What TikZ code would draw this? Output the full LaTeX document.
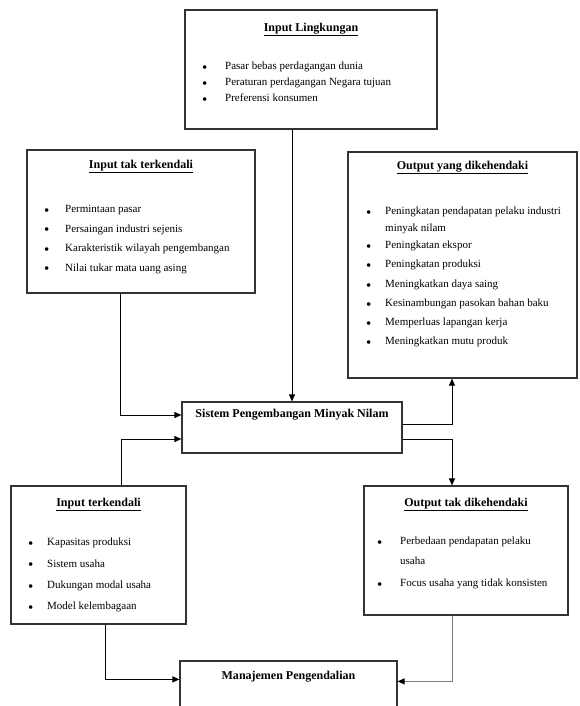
\documentclass[tikz,border=0pt]{standalone}
\usepackage{fontspec}
\setmainfont{Liberation Serif}
\usetikzlibrary{arrows.meta}
\definecolor{BoxLine}{gray}{0.2}
\definecolor{LinkGray}{gray}{0.5}

\begin{document}
\begin{tikzpicture}[x=1pt,y=-1pt,
  every node/.style={font=\fontsize{11}{13}\selectfont},
  box/.style={draw=BoxLine, line width=1.2pt, fill=white, inner sep=0pt},
  title/.style={font=\fontsize{12}{14}\selectfont\bfseries, inner sep=0pt},
  item/.style={anchor=west, inner sep=0pt, text height=8pt, text depth=2.5pt},
  dot/.style={item, yshift=-2.3pt, font=\fontsize{15}{15}\selectfont},
  arr/.style={line width=0.9pt, -{Triangle[length=7pt,width=6pt]}}]
  \useasboundingbox (0,0) rectangle (579,706);
  \clip (0,0) rectangle (579,706);

  % boxes
  \node[box, minimum width=252pt, minimum height=119pt] (lk) at (311,69.5) {};
  \node[box, minimum width=228pt, minimum height=143pt] (itk) at (141,221.5) {};
  \node[box, minimum width=229pt, minimum height=226pt] (oyd) at (462.5,265) {};
  \node[box, minimum width=220pt, minimum height=51pt] (sys) at (292,427.5) {};
  \node[box, minimum width=175pt, minimum height=138pt] (itr) at (98.5,555) {};
  \node[box, minimum width=204pt, minimum height=129pt] (otd) at (466,550.5) {};
  \node[box, minimum width=217pt, minimum height=60pt] (mp) at (288.5,691) {};

  % titles
  \node[title] (lk-title) at ([yshift=-20pt]lk.north) {\underline{Input Lingkungan}};
  \node[title] (itk-title) at ([yshift=-17pt]itk.north) {\underline{Input tak terkendali}};
  \node[title] (oyd-title) at ([yshift=-16pt]oyd.north) {\underline{Output yang dikehendaki}};
  \node[title] (sys-title) at ([yshift=-13pt]sys.north) {Sistem Pengembangan Minyak Nilam};
  \node[title] (itr-title) at ([yshift=-19pt]itr.north) {\underline{Input terkendali}};
  \node[title] (otd-title) at ([yshift=-19pt]otd.north) {\underline{Output tak dikehendaki}};
  \node[title] (mp-title) at ([yshift=-16pt]mp.north) {Manajemen Pengendalian};

  % bullet lists
  \foreach \y/\t [count=\i] in {67/Pasar bebas perdagangan dunia,
      83/Peraturan perdagangan Negara tujuan, 99/Preferensi konsumen} {
    \node[dot] (lk-d\i) at (202,\y) {\textbullet};
    \node[item] (lk-t\i) at (225,\y) {\t};
  }
  \foreach \y/\t [count=\i] in {210/Permintaan pasar, 229.5/Persaingan industri sejenis,
      249/Karakteristik wilayah pengembangan, 268.5/Nilai tukar mata uang asing} {
    \node[dot] (itk-d\i) at (44,\y) {\textbullet};
    \node[item] (itk-t\i) at (65,\y) {\t};
  }
  \foreach \y/\t [count=\i] in {212/Peningkatan pendapatan pelaku  industri,
      246/Peningkatan ekspor, 265/Peningkatan produksi, 285/Meningkatkan daya saing,
      304/Kesinambungan pasokan bahan baku, 323/Memperluas lapangan kerja,
      342/Meningkatkan mutu produk} {
    \node[dot] (oyd-d\i) at (366,\y) {\textbullet};
    \node[item] (oyd-t\i) at (385,\y) {\t};
  }
  \node[item] (oyd-t1b) at (385,229) {minyak nilam};
  \foreach \y/\t [count=\i] in {543/Kapasitas produksi, 564.5/Sistem usaha,
      586/Dukungan modal usaha, 607/Model kelembagaan} {
    \node[dot] (itr-d\i) at (28,\y) {\textbullet};
    \node[item] (itr-t\i) at (47,\y) {\t};
  }
  \foreach \y/\t [count=\i] in {542/Perbedaan pendapatan pelaku, 584/Focus usaha yang tidak konsisten} {
    \node[dot] (otd-d\i) at (377,\y) {\textbullet};
    \node[item] (otd-t\i) at (400,\y) {\t};
  }
  \node[item] (otd-t1b) at (400,562) {usaha};

  % connectors
  \coordinate (rx) at (452,0);
  \draw[arr] (lk.south -| sys.north) -- (sys.north);
  \draw[arr] ([xshift=-21pt]itk.south) |- ([yshift=12.5pt]sys.west);
  \draw[arr] ([xshift=22.5pt]itr.north) |- ([yshift=-11.5pt]sys.west);
  \draw[arr] ([yshift=3.5pt]sys.east) -| (oyd.south -| rx);
  \draw[arr] ([yshift=-11.5pt]sys.east) -| (otd.north -| rx);
  \draw[arr, LinkGray, -{Triangle[length=7pt,width=6pt,color=black]}] (otd.south -| rx) |- ([yshift=-21pt]mp.north east);
  \draw[arr] ([xshift=6.5pt]itr.south) |- ([yshift=-19pt]mp.north west);
\end{tikzpicture}
\end{document}
